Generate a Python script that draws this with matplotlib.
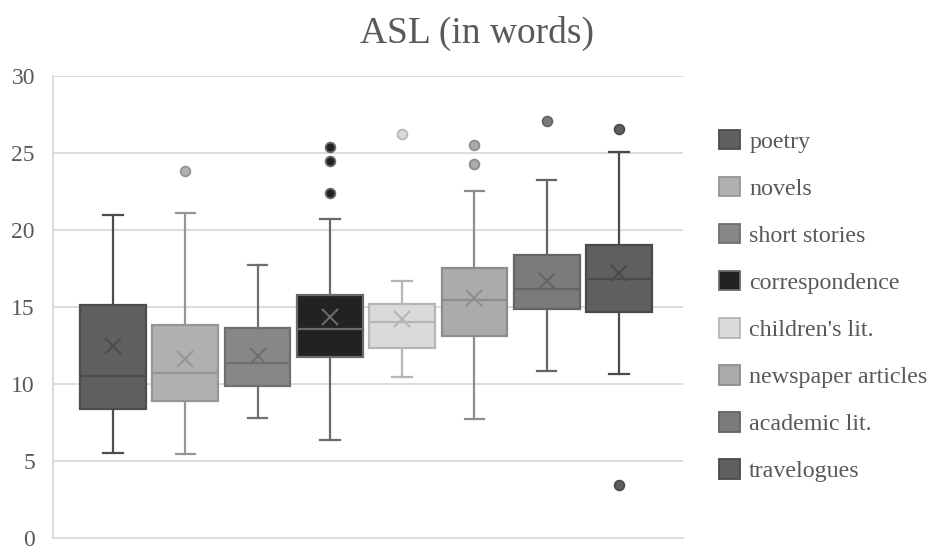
import matplotlib
matplotlib.use("Agg")
from matplotlib import pyplot as plt
from matplotlib.patches import Patch

plt.rcParams['font.family'] = ['Liberation Serif', 'DejaVu Serif']

# Genres and box statistics
genres = ['poetry', 'novels', 'short stories', 'correspondence',
          "children's lit.", 'newspaper articles', 'academic lit.', 'travelogues']
whis_lo = [5.55, 5.45, 7.8, 6.35, 10.45, 7.7, 10.85, 10.65]
q1 = [8.4, 8.9, 9.9, 11.75, 12.35, 13.1, 14.85, 14.7]
median = [10.55, 10.7, 11.35, 13.6, 14.05, 15.45, 16.15, 16.85]
q3 = [15.1, 13.85, 13.65, 15.8, 15.2, 17.5, 18.4, 19.0]
whis_hi = [21.0, 21.1, 17.7, 20.7, 16.7, 22.5, 23.25, 25.05]
means = [12.45, 11.6, 11.85, 14.35, 14.2, 15.6, 16.7, 17.2]
outliers = [[], [23.8], [], [22.4, 24.45, 25.4], [26.25],
            [24.3, 25.55], [27.05], [26.55, 3.45]]

# Excel-like grey palette (fill, border)
fills = ['#606060', '#b0b0b0', '#878787', '#222222',
         '#dadada', '#ababab', '#7b7b7b', '#5f5f5f']
edges = ['#4d4d4d', '#969696', '#6f6f6f', '#6a6a6a',
         '#b6b6b6', '#8d8d8d', '#646464', '#4a4a4a']

fig = plt.figure(figsize=(9.3, 5.47), dpi=100)
ax = fig.add_axes([53 / 930, 1 - 538 / 547, 630 / 930, 462 / 547])

stats = []
for i, g in enumerate(genres):
    stats.append(dict(label=g, whislo=whis_lo[i], q1=q1[i], med=median[i],
                      q3=q3[i], whishi=whis_hi[i], mean=means[i],
                      fliers=outliers[i]))

positions = list(range(1, len(genres) + 1))
bp = ax.bxp(stats, positions=positions, widths=0.91, patch_artist=True,
            showmeans=True, capwidths=0.27, zorder=3)

for i in range(len(genres)):
    fc, ec = fills[i], edges[i]
    bp['boxes'][i].set(facecolor=fc, edgecolor=ec, linewidth=1.6)
    bp['medians'][i].set(color=ec, linewidth=1.6)
    for w in bp['whiskers'][2 * i:2 * i + 2]:
        w.set(color=ec, linewidth=1.6)
    for c in bp['caps'][2 * i:2 * i + 2]:
        c.set(color=ec, linewidth=1.6)
    bp['means'][i].set(marker='x', markersize=11.5, markeredgecolor=ec,
                       markeredgewidth=1.5, markerfacecolor='none')
    bp['fliers'][i].set(marker='o', markersize=7, markerfacecolor=fc,
                        markeredgecolor=ec, markeredgewidth=1.3)

ax.set_xlim(0.17, 8.885)
ax.set_ylim(0, 30)
ax.set_yticks([0, 5, 10, 15, 20, 25, 30])
ax.set_xticks([])
ax.yaxis.grid(True, color='#d9d9d9', linewidth=1.3, zorder=0)
ax.set_axisbelow(True)
for s in ['top', 'right']:
    ax.spines[s].set_visible(False)
for s in ['left', 'bottom']:
    ax.spines[s].set_color('#d9d9d9')
    ax.spines[s].set_linewidth(1.3)
ax.tick_params(axis='y', length=0, pad=13, labelsize=17, labelcolor='#595959')

fig.text(477 / 930, 1 - 43 / 547, 'ASL (in words)', ha='center', va='baseline',
         fontsize=27, color='#595959')

handles = [Patch(facecolor=fills[i], edgecolor=edges[i], linewidth=1.3)
           for i in range(len(genres))]
fig.legend(handles, genres, loc='center left',
           bbox_to_anchor=(719 / 930, 1 - 306 / 547), frameon=False,
           fontsize=17.3, labelcolor='#595959', handlelength=0.875,
           handleheight=0.875, handletextpad=0.38, labelspacing=1.0,
           borderaxespad=0, borderpad=0)

fig.savefig('out.png', dpi=100)
